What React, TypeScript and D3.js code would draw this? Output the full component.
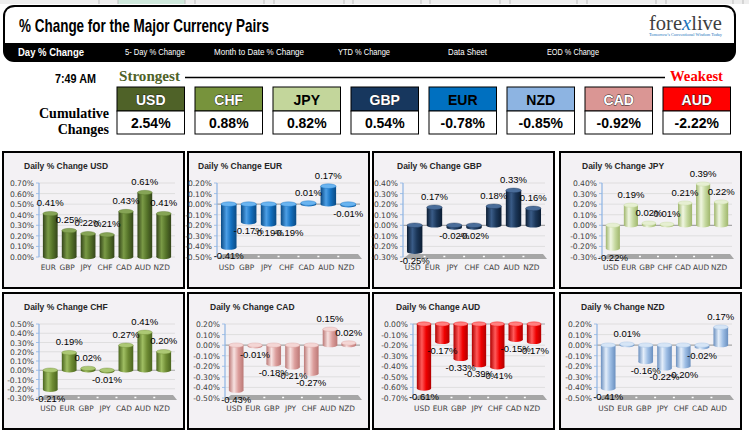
import React from "react";
import * as d3 from "d3";

// ---------- DATA ----------
const stripCurrencies = ["USD", "CHF", "JPY", "GBP", "EUR", "NZD", "CAD", "AUD"];
const stripValues = [2.54, 0.88, 0.82, 0.54, -0.78, -0.85, -0.92, -2.22];
const navLabels = ["Day % Change", "5- Day % Change", "Month to Date % Change", "YTD % Change", "Data Sheet", "EOD % Change"];
const timeLabel = "7:49 AM";

const panelCurrencies = ["USD", "EUR", "GBP", "JPY", "CHF", "CAD", "AUD", "NZD"];

const usdCats = ["EUR", "GBP", "JPY", "CHF", "CAD", "AUD", "NZD"];
const usdValues = [0.41, 0.25, 0.22, 0.21, 0.43, 0.61, 0.41];
const eurCats = ["USD", "GBP", "JPY", "CHF", "CAD", "AUD", "NZD"];
const eurValues = [-0.41, -0.17, -0.19, -0.19, 0.01, 0.17, -0.01];
const gbpCats = ["USD", "EUR", "JPY", "CHF", "CAD", "AUD", "NZD"];
const gbpValues = [-0.25, 0.17, -0.02, -0.02, 0.18, 0.33, 0.16];
const jpyCats = ["USD", "EUR", "GBP", "CHF", "CAD", "AUD", "NZD"];
const jpyValues = [-0.22, 0.19, 0.02, 0.01, 0.21, 0.39, 0.22];
const chfCats = ["USD", "EUR", "GBP", "JPY", "CAD", "AUD", "NZD"];
const chfValues = [-0.21, 0.19, 0.02, -0.01, 0.27, 0.41, 0.2];
const cadCats = ["USD", "EUR", "GBP", "JPY", "CHF", "AUD", "NZD"];
const cadValues = [-0.43, -0.01, -0.18, -0.21, -0.27, 0.15, 0.02];
const audCats = ["USD", "EUR", "GBP", "JPY", "CHF", "CAD", "NZD"];
const audValues = [-0.61, -0.17, -0.33, -0.39, -0.41, -0.15, -0.17];
const nzdCats = ["USD", "EUR", "GBP", "JPY", "CHF", "CAD", "AUD"];
const nzdValues = [-0.41, 0.01, -0.16, -0.22, -0.2, -0.02, 0.17];

const panelCats = [usdCats, eurCats, gbpCats, jpyCats, chfCats, cadCats, audCats, nzdCats];
const panelValues = [usdValues, eurValues, gbpValues, jpyValues, chfValues, cadValues, audValues, nzdValues];
const panelDomains: [number, number][] = [
  [0, 0.7], [-0.5, 0.2], [-0.3, 0.4], [-0.3, 0.4],
  [-0.3, 0.5], [-0.5, 0.2], [-0.7, 0.0], [-0.5, 0.2],
];

// ---------- STYLE ----------
const headerColors: Record<string, string> = {
  USD: "#4f6228", CHF: "#77933c", JPY: "#c3d69b", GBP: "#17375e",
  EUR: "#0070c0", NZD: "#8db4e2", CAD: "#da9694", AUD: "#ff0000",
};
const headerTextColors: Record<string, string> = {
  USD: "#ffffff", CHF: "#ffffff", JPY: "#000000", GBP: "#ffffff",
  EUR: "#000000", NZD: "#000000", CAD: "#ffffff", AUD: "#ffffff",
};
const barColors: Record<string, { dark: string; mid: string; light: string; cap: string }> = {
  USD: { dark: "#34451a", mid: "#557329", light: "#7a9a46", cap: "#86a456" },
  EUR: { dark: "#0a4a84", mid: "#1370c0", light: "#4d9fe6", cap: "#6ab4f0" },
  GBP: { dark: "#0c1d33", mid: "#1b3658", light: "#3a5c88", cap: "#4a6d9a" },
  JPY: { dark: "#9fb66c", mid: "#c6d9a0", light: "#f0f6e2", cap: "#e6efd2" },
  CHF: { dark: "#4b651f", mid: "#6f8c34", light: "#a0bf63", cap: "#acc874" },
  CAD: { dark: "#bb7876", mid: "#dc9e9c", light: "#f7e2e1", cap: "#f4d6d5" },
  AUD: { dark: "#b00000", mid: "#f00000", light: "#ff5a5a", cap: "#ff8080" },
  NZD: { dark: "#6a8fbf", mid: "#9dbde4", light: "#e4eefa", cap: "#d6e5f6" },
};

const panelX = [3, 188, 373, 560, 3, 188, 373, 560];
const panelY = [152, 152, 152, 152, 293, 293, 293, 293];
const panelW = 181;
const panelH = 136;
const axisOff = [36, 29, 30, 42, 36, 37, 40, 37];
const titleOff = [21, 10, 24, 22, 21, 22, 23, 21];

const narrow = "'Liberation Sans Narrow', 'Arial Narrow', sans-serif";
const sans = "'Liberation Sans', Arial, sans-serif";
const dejavu = "'DejaVu Sans', sans-serif";
const serif = "'Liberation Serif', 'Times New Roman', serif";

const fmt = (v: number) => `${v.toFixed(2)}%`;

function Panel({ i }: { i: number }) {
  const px = panelX[i];
  const py = panelY[i];
  const cur = panelCurrencies[i];
  const cats = panelCats[i];
  const vals = panelValues[i];
  const dom = panelDomains[i];
  const ax = px + axisOff[i];
  const right = px + panelW - 11;
  const x = d3.scaleBand<string>().domain(cats).range([ax + 2, right]).paddingInner(0.22).paddingOuter(0.1);
  const y = d3.scaleLinear().domain(dom).range([py + 105, py + 31]);
  const ticks = y.ticks(8);
  const w = x.bandwidth();
  const ry = w * 0.15;
  const y0 = y(0);
  const bottom = y(dom[0]);
  const c = barColors[cur];
  const gid = `grad-${cur}`;
  return (
    <g>
      <rect x={px} y={py} width={panelW} height={panelH} fill="#f3f1f4" stroke="#000" strokeWidth={2} />
      <text x={px + titleOff[i]} y={py + 16.5} fontFamily={narrow} fontWeight="bold" fontSize={8.5} fill="#262626">
        {`Daily % Change ${cur}`}
      </text>
      {ticks.map((t) => (
        <g key={t}>
          <line x1={ax} x2={right + 2} y1={y(t)} y2={y(t)} stroke={t === 0 && dom[0] < 0 ? "#a6a6a6" : "#d9d9d9"} strokeWidth={t === 0 && dom[0] < 0 ? 1.2 : 0.8} />
          <line x1={ax - 3} x2={ax} y1={y(t)} y2={y(t)} stroke="#8eb4e3" strokeWidth={0.8} />
          <text x={ax - 5} y={y(t) + 3} textAnchor="end" fontFamily={dejavu} fontSize={7.6} fill="#404040">
            {fmt(t)}
          </text>
        </g>
      ))}
      <line x1={ax} x2={ax} y1={y(dom[1])} y2={bottom} stroke="#8eb4e3" strokeWidth={1.2} />
      {dom[0] < 0 && (
        <g>
          <polygon
            points={`${ax},${bottom + 2} ${right + 4},${bottom + 2} ${right},${bottom - 3} ${ax + 6},${bottom - 3}`}
            fill="#a6a6a6"
          />
          {cats.slice(1).map((k) => {
            const bx = (x(k) as number) - (x.step() - w) / 2;
            return <line key={k} x1={bx - 1} x2={bx + 1} y1={bottom - 0.5} y2={bottom - 0.5} stroke="#fff" strokeWidth={1.5} />;
          })}
        </g>
      )}
      {cats.map((k, j) => {
        const v = vals[j];
        const bx = x(k) as number;
        const yv = y(v);
        const top = Math.min(y0, yv);
        const bot = Math.max(y0, yv);
        const cx = bx + w / 2;
        return (
          <g key={k}>
            <ellipse cx={cx} cy={bot} rx={w / 2} ry={ry} fill={`url(#${gid})`} />
            <rect x={bx} y={top} width={w} height={bot - top} fill={`url(#${gid})`} />
            <ellipse cx={cx} cy={top} rx={w / 2} ry={ry} fill={c.cap} stroke={c.mid} strokeWidth={0.4} />
          </g>
        );
      })}
      {cats.map((k, j) => {
        const v = vals[j];
        const cx = (x(k) as number) + w / 2;
        const ly = v >= 0 ? y(v) - 7.5 : y(v) + 12;
        return (
          <text key={k} x={cx} y={ly} textAnchor="middle" fontFamily={sans} fontSize={9.5} fill="#000">
            {fmt(v)}
          </text>
        );
      })}
      {cats.map((k) => (
        <text key={k} x={(x(k) as number) + w / 2 - 2} y={py + 118} textAnchor="middle" fontFamily={dejavu} fontSize={7.4} fill="#404040">
          {k}
        </text>
      ))}
    </g>
  );
}

export default function App() {
  const boxX = d3.scaleLinear().domain([0, 1]).range([117, 195]);
  const gridCols = [99, 118, 185, 195, 264, 274, 344, 353, 421, 430, 500, 510, 577, 587, 656, 666, 733, 743];
  const navX = [18, 125, 214, 338, 448, 547];
  const navW = [66, 60, 90, 52, 39, 52];
  return (
    <svg width={749} height={435} style={{ position: "absolute", left: 0, top: 0, background: "#fff" }}>
      <defs>
        {panelCurrencies.map((cur) => {
          const c = barColors[cur];
          return (
            <linearGradient key={cur} id={`grad-${cur}`} x1="0" x2="1" y1="0" y2="0">
              <stop offset="0%" stopColor={c.dark} />
              <stop offset="35%" stopColor={c.light} />
              <stop offset="65%" stopColor={c.mid} />
              <stop offset="100%" stopColor={c.dark} />
            </linearGradient>
          );
        })}
      </defs>
      <rect x={0} y={0} width={749} height={435} fill="#fff" />
      {/* spreadsheet strip */}
      <rect x={0} y={0} width={749} height={4} fill="#eeeeee" />
      <rect x={118} y={0} width={67} height={4} fill="#cfe9dc" />
      {gridCols.map((g) => (
        <line key={g} x1={g} x2={g} y1={0} y2={4} stroke="#bdbdbd" strokeWidth={1} />
      ))}
      {/* header */}
      <rect x={3} y={5} width={733} height={57} rx={11} ry={11} fill="#000" />
      <path d="M 5 43 L 5 17 Q 5 7 15 7 L 724 7 Q 734 7 734 17 L 734 43 Z" fill="#fff" />
      <text x={19} y={32} fontFamily={narrow} fontWeight="bold" fontSize={19} textLength={250} lengthAdjust="spacingAndGlyphs" fill="#000">
        % Change for the Major Currency Pairs
      </text>
      {navLabels.map((l, k) => (
        <text
          key={l}
          x={navX[k]}
          y={k === 0 ? 56 : 55}
          fontFamily={k === 0 ? sans : narrow}
          fontWeight={k === 0 ? "bold" : "normal"}
          fontSize={k === 0 ? 10.5 : 9}
          textLength={navW[k]}
          lengthAdjust="spacingAndGlyphs"
          fill="#fff"
        >
          {l}
        </text>
      ))}
      {/* logo */}
      <text x={649} y={30} fontFamily={serif} fontSize={20} fill="#3f3f3f" textLength={73} lengthAdjust="spacingAndGlyphs">
        fore<tspan fill="#1b75bc" fontStyle="italic">x</tspan>live
      </text>
      <text x={649} y={36} fontFamily={serif} fontSize={3.6} fill="#1b75bc" textLength={73} lengthAdjust="spacingAndGlyphs">
        Tomorrow's Conventional Wisdom Today
      </text>
      {/* strongest / weakest */}
      <text x={55} y={83} fontFamily={narrow} fontWeight="bold" fontSize={13} textLength={41} lengthAdjust="spacingAndGlyphs" fill="#000">
        {timeLabel}
      </text>
      <text x={119} y={81} fontFamily={serif} fontWeight="bold" fontSize={14} textLength={61} lengthAdjust="spacingAndGlyphs" fill="#4f6228">
        Strongest
      </text>
      <line x1={185} x2={665} y1={77.5} y2={77.5} stroke="#000" strokeWidth={1.6} />
      <text x={670} y={81} fontFamily={serif} fontWeight="bold" fontSize={14} textLength={53} lengthAdjust="spacingAndGlyphs" fill="#ff0000">
        Weakest
      </text>
      <text x={109} y={118} textAnchor="end" fontFamily={serif} fontWeight="bold" fontSize={14} fill="#000">
        Cumulative
      </text>
      <text x={109} y={134} textAnchor="end" fontFamily={serif} fontWeight="bold" fontSize={14} fill="#000">
        Changes
      </text>
      {stripCurrencies.map((cur, k) => {
        const bx = boxX(k);
        return (
          <g key={cur}>
            <rect x={bx} y={87} width={67.5} height={24} fill={headerColors[cur]} stroke="#000" strokeWidth={1} />
            <rect x={bx} y={111} width={67.5} height={23} fill="#fff" stroke="#000" strokeWidth={1} />
            <text
              x={bx + 33.75}
              y={105}
              textAnchor="middle"
              fontFamily={narrow}
              fontWeight="bold"
              fontSize={14}
              fill={headerTextColors[cur]}
              stroke={headerTextColors[cur] === "#ffffff" ? "#222" : "none"}
              strokeWidth={0.8}
              paintOrder="stroke"
            >
              {cur}
            </text>
            <text x={bx + 33.75} y={128} textAnchor="middle" fontFamily={narrow} fontWeight="bold" fontSize={14} fill="#000">
              {fmt(stripValues[k])}
            </text>
          </g>
        );
      })}
      {panelCurrencies.map((_, i) => (
        <Panel key={i} i={i} />
      ))}
    </svg>
  );
}
